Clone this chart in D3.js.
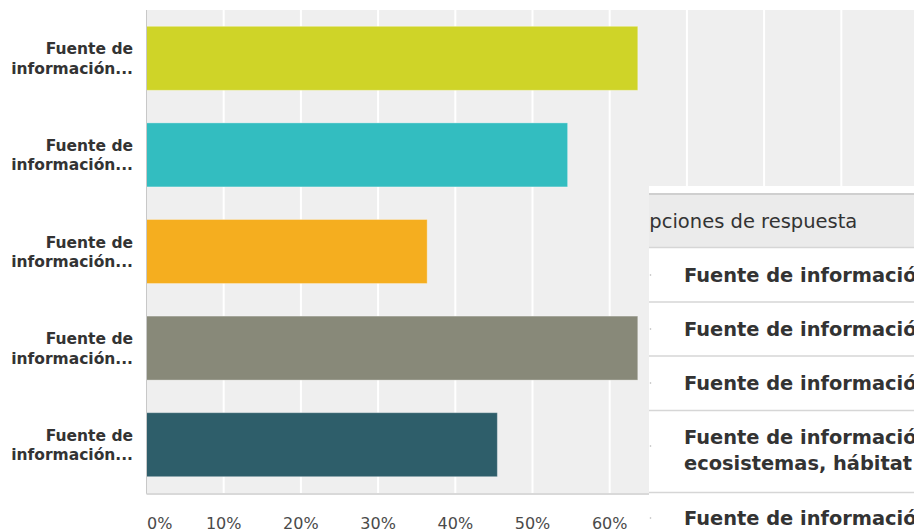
<!DOCTYPE html>
<html>
<head>
<meta charset="utf-8">
<script src="https://cdn.jsdelivr.net/npm/d3@7"></script>
<style>
  html, body { margin: 0; padding: 0; background: #ffffff; }
  svg { display: block; }
</style>
</head>
<body>
<svg id="chart" width="914" height="532"></svg>
<script>
// ---- data ----
const categories = ["Fuente de información...", "Fuente de información...", "Fuente de información...", "Fuente de información...", "Fuente de información..."];
const values = [63.64, 54.55, 36.36, 63.64, 45.45];
const barColors = ["#cfd428", "#33bdc0", "#f5ae1f", "#888979", "#2e5e6a"];
const xTicks = [0, 10, 20, 30, 40, 50, 60, 70, 80, 90, 100];
const tableHeader = "Opciones de respuesta";
const tableRows = [
  ["Fuente de información"],
  ["Fuente de información"],
  ["Fuente de información"],
  ["Fuente de información", "ecosistemas, hábitat"],
  ["Fuente de información"]
];

// ---- layout ----
const svg = d3.select("#chart");
const plot = { left: 146.5, right: 918.5, top: 10, bottom: 493 };
const tbl = { left: 649, top: 186, right: 914, bottom: 532 };

const x = d3.scaleLinear().domain([0, 100]).range([plot.left, plot.right]);
const y = d3.scaleBand().domain(d3.range(categories.length))
  .range([plot.top, plot.bottom]).paddingInner(0.337).paddingOuter(0.1685);

// plot background
svg.append("rect")
  .attr("x", plot.left).attr("y", plot.top)
  .attr("width", plot.right - plot.left).attr("height", plot.bottom - plot.top)
  .attr("fill", "#efefef");

// vertical gridlines
svg.append("g").selectAll("line").data(xTicks.filter(d => d > 0)).join("line")
  .attr("x1", d => x(d)).attr("x2", d => x(d))
  .attr("y1", plot.top).attr("y2", plot.bottom)
  .attr("stroke", "#ffffff").attr("stroke-width", 2);

// bars
svg.append("g").selectAll("rect").data(values).join("rect")
  .attr("x", x(0))
  .attr("y", (d, i) => y(i))
  .attr("width", d => x(d) - x(0))
  .attr("height", y.bandwidth())
  .attr("fill", (d, i) => barColors[i])
  .attr("stroke", "#ffffff").attr("stroke-opacity", 0.35).attr("stroke-width", 1);

// axis lines
svg.append("line")
  .attr("x1", plot.left).attr("x2", plot.left)
  .attr("y1", plot.top).attr("y2", plot.bottom + 1)
  .attr("stroke", "#c8c8c8").attr("stroke-width", 1);
svg.append("line")
  .attr("x1", plot.left).attr("x2", plot.right)
  .attr("y1", plot.bottom + 1).attr("y2", plot.bottom + 1)
  .attr("stroke", "#d9d9d9").attr("stroke-width", 2);

// x tick labels (those beyond the overlaid table are hidden by it, so only the visible ones are drawn)
svg.append("g").selectAll("text").data(xTicks.filter(d => x(d) + 20 < tbl.left)).join("text")
  .attr("x", d => d === 0 ? x(d) + 0.5 : x(d))
  .attr("y", 528.5)
  .attr("text-anchor", d => d === 0 ? "start" : "middle")
  .attr("font-family", "DejaVu Sans, sans-serif")
  .attr("font-size", 16)
  .attr("fill", "#4a4a4a")
  .text(d => d + "%");

// y labels (two lines)
const yl = svg.append("g").selectAll("text").data(categories).join("text")
  .attr("text-anchor", "end")
  .attr("font-family", "DejaVu Sans, sans-serif")
  .attr("font-weight", "bold")
  .attr("font-size", 15.5)
  .attr("fill", "#333333");
yl.each(function (d, i) {
  const c = y(i) + y.bandwidth() / 2;
  const parts = d.split(" ");
  const l1 = parts.slice(0, 2).join(" ");
  const l2 = parts.slice(2).join(" ");
  const t = d3.select(this);
  t.append("tspan").attr("x", 133).attr("y", c - 4).text(l1);
  t.append("tspan").attr("x", 133).attr("y", c + 15.5).text(l2);
});

// ---- overlaid table ----
const defs = svg.append("defs");
defs.append("clipPath").attr("id", "tblclip").append("rect")
  .attr("x", tbl.left).attr("y", tbl.top)
  .attr("width", tbl.right - tbl.left).attr("height", tbl.bottom - tbl.top);

const tg = svg.append("g").attr("clip-path", "url(#tblclip)");
tg.append("rect").attr("x", tbl.left).attr("y", tbl.top)
  .attr("width", tbl.right - tbl.left).attr("height", tbl.bottom - tbl.top)
  .attr("fill", "#ffffff");

// header
const headerTop = 194, headerBottom = 247.5;
tg.append("rect").attr("x", tbl.left).attr("y", headerTop)
  .attr("width", tbl.right - tbl.left).attr("height", headerBottom - headerTop)
  .attr("fill", "#ebebeb");
tg.append("line").attr("x1", tbl.left).attr("x2", tbl.right)
  .attr("y1", headerTop).attr("y2", headerTop)
  .attr("stroke", "#cfcfcf").attr("stroke-width", 2);
tg.append("text")
  .attr("x", 634).attr("y", 228)
  .attr("font-family", "DejaVu Sans, sans-serif")
  .attr("font-size", 19.5)
  .attr("fill", "#333333")
  .text(tableHeader);

// rows
const rowLines = [247.5, 302, 356, 410.5, 492.5];
const rowBase = [282, 336, 390, 444, 525];
tg.append("g").selectAll("line").data(rowLines).join("line")
  .attr("x1", tbl.left).attr("x2", tbl.right)
  .attr("y1", d => d).attr("y2", d => d)
  .attr("stroke", "#d6d6d6").attr("stroke-width", 1.5);

tg.append("g").selectAll("circle").data(rowBase).join("circle")
  .attr("cx", 650.5).attr("cy", (d, i) => tableRows[i].length > 1 ? d + 2 : d - 7)
  .attr("r", 0.8).attr("fill", "#b5b5b5");

const rt = tg.append("g").selectAll("text").data(tableRows).join("text")
  .attr("font-family", "DejaVu Sans, sans-serif")
  .attr("font-weight", "bold")
  .attr("font-size", 19.4)
  .attr("fill", "#333333");
rt.each(function (d, i) {
  const t = d3.select(this);
  d.forEach((line, k) => {
    t.append("tspan").attr("x", 684).attr("y", rowBase[i] + k * 25.5).text(line);
  });
});
</script>
</body>
</html>
